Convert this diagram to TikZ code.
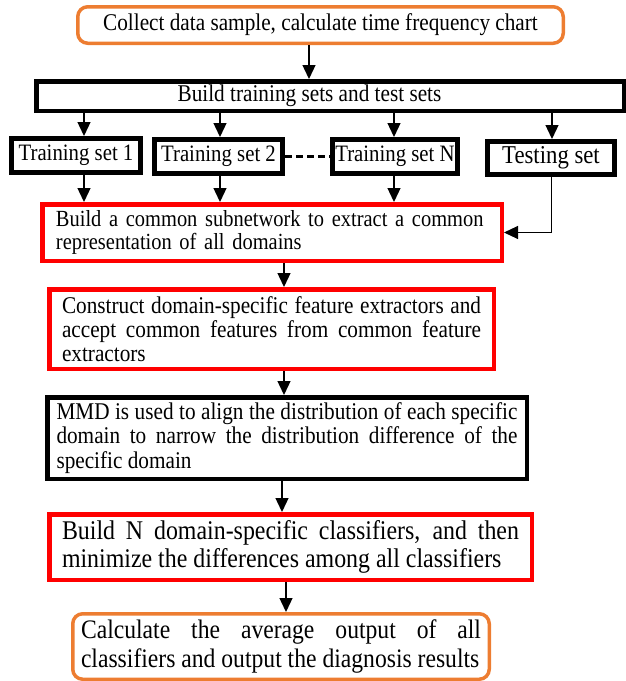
\documentclass[tikz,border=0pt]{standalone}
\usepackage{fontspec}
\setmainfont{Liberation Serif}[FakeStretch=0.885]
\usetikzlibrary{arrows.meta}
\definecolor{orng}{HTML}{ED7D31}
\newcommand\fsz[2]{\fontsize{#1}{#2}\selectfont}
\begin{document}
\begin{tikzpicture}[x=1pt,y=-1pt,
  box/.style={draw, rectangle, inner sep=0pt, line width=4.5pt},
  redbox/.style={box, draw=red},
  orbox/.style={box, draw=orng, line width=3.5pt, rounded corners=10pt},
  tsbox/.style={box, line width=5pt},
  arr/.style={line width=1.3pt, -{Triangle[width=13pt,length=14pt]}},
  thinarr/.style={line width=1pt, -{Triangle[width=13pt,length=14pt]}}]
\useasboundingbox (0,0) rectangle (625,681);

\node[orbox, minimum width=485.5pt, minimum height=36.5pt, font=\fsz{24}{25}] (top) at (320.5,25) {Collect data sample, calculate time frequency chart};
\node[box, minimum width=587.5pt, minimum height=29.5pt, font=\fsz{24}{25}] (build) at (330,96) {Build training sets and test sets\hspace*{41pt}};

\node[tsbox, minimum width=129pt, minimum height=34pt, font=\fsz{23.5}{25}] (ts1) at (76,155.5) {Training set 1};
\node[tsbox, minimum width=128pt, minimum height=34pt, font=\fsz{23.5}{25}] (ts2) at (218.5,156.5) {Training set 2};
\node[tsbox, minimum width=125pt, minimum height=34pt, font=\fsz{23.5}{25}] (tsN) at (395,156.5) {Training set N};
\node[tsbox, minimum width=127pt, minimum height=33pt, font=\fsz{25.7}{27}] (test) at (551,158) {Testing set};

\node[redbox, minimum width=459.5pt, minimum height=56.5pt, text width=432pt, align=left, font=\fsz{23.1}{23}] (common) at (272,232.5)
 {Build a common subnetwork to extract a common\\ representation of all domains};
\node[redbox, minimum width=444.5pt, minimum height=79.5pt, text width=419pt, align=justify, font=\fsz{24}{24}] (feat) at (271.5,329)
 {Construct domain-specific feature extractors and\linebreak accept common features from common feature\linebreak extractors};
\node[box, minimum width=479.5pt, minimum height=81.5pt, text width=461pt, align=justify, font=\fsz{24}{24.5}] (mmd) at (287,438)
 {MMD is used to align the distribution of each specific\linebreak domain to narrow the distribution difference of the\linebreak specific domain};
\node[redbox, minimum width=482.5pt, minimum height=65.5pt, text width=457pt, align=justify, font=\fsz{27}{28}] (cls) at (290.5,547)
 {Build N domain-specific classifiers, and then\linebreak minimize the differences among all classifiers};
\node[orbox, minimum width=416.5pt, minimum height=65.5pt, text width=400pt, align=justify, font=\fsz{26.7}{29}] (calc) at (281,646.5)
 {Calculate the average output of all\linebreak classifiers and output the diagnosis results};

\draw[arr] (309,0 |- top.south) -- (309,0 |- build.north);
\draw[arr] (84,0 |- build.south) -- (84,0 |- ts1.north);
\draw[arr] (220,0 |- build.south) -- (220,0 |- ts2.north);
\draw[arr] (394,0 |- build.south) -- (394,0 |- tsN.north);
\draw[arr] (552,0 |- build.south) -- (552,0 |- test.north);
\draw[line width=2.5pt, dash pattern=on 7pt off 4pt] (ts2.east) -- (tsN.west);
\draw[arr] (84,0 |- ts1.south) -- (84,0 |- common.north);
\draw[arr] (220,0 |- ts2.south) -- (220,0 |- common.north);
\draw[arr] (394,0 |- tsN.south) -- (394,0 |- common.north);
\draw[thinarr] (test.south) |- (common.east);
\draw[arr] (284,0 |- common.south) -- (284,0 |- feat.north);
\draw[arr] (284,0 |- feat.south) -- (284,0 |- mmd.north);
\draw[arr] (282,0 |- mmd.south) -- (282,0 |- cls.north);
\draw[arr] (286,0 |- cls.south) -- (286,0 |- calc.north);
\end{tikzpicture}
\end{document}
